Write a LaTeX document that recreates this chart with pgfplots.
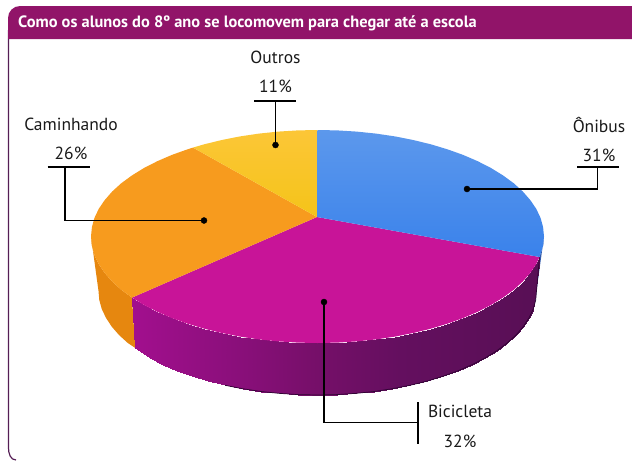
\documentclass[border=0pt]{standalone}
\usepackage{fontspec}
\setmainfont{PT Sans}
\usepackage{pgfplots}
\pgfplotsset{compat=1.18}
\definecolor{band}{RGB}{145,20,105}
\definecolor{frameC}{RGB}{85,30,85}
\definecolor{magTop}{RGB}{200,20,152}
\definecolor{orangeTop}{RGB}{247,155,30}
\definecolor{orangeSide}{RGB}{230,135,15}
\definecolor{blueA}{RGB}{92,152,236}
\definecolor{blueB}{RGB}{58,130,235}
\definecolor{yelA}{RGB}{252,198,55}
\definecolor{yelB}{RGB}{244,196,25}
\definecolor{blueSide}{RGB}{50,90,170}
\begin{document}
\begin{tikzpicture}
\begin{axis}[
  width=632pt,height=461pt,scale only axis,hide axis,clip=false,
  xmin=0,xmax=632,ymin=0,ymax=461,y dir=reverse,enlargelimits=false,
  colormap={side}{rgb255(132pt)=(162,15,142) rgb255(250pt)=(135,15,120) rgb255(316pt)=(118,15,105) rgb255(400pt)=(100,15,95) rgb255(540pt)=(88,15,85)},
]
\path (axis cs:0,0) rectangle (axis cs:632,461);
% frame and title band
\draw[frameC,line width=1.2pt] (axis cs:8.5,30) -- (axis cs:8.5,448) to[out=-90,in=180] (axis cs:16,460);
\fill[band] (axis cs:8,39) [rounded corners=12pt] -- (axis cs:8,6) [sharp corners] -- (axis cs:632,6) -- (axis cs:632,39) -- cycle;
\node[anchor=west,text=white,font=\fontsize{16.4}{17}\selectfont\bfseries,inner sep=0pt] at (axis cs:18,23.5) {Como os alunos do 8º ano se locomovem para chegar até a escola};

% side: blue sliver
\addplot[fill=blueSide,draw=none] coordinates {(544,236.5)(543.1,245.8)(539.5,257)(533,309.6)(535.7,300.1)(536.5,291)};
% side: orange
\addplot[fill=orangeSide,draw=none] coordinates {(132,297.6)(121.3,289.8)(112.2,281.5)(104.7,272.9)(98.7,264.1)(94.4,255)(91.9,245.8)(91,236.5)(98.5,291)(99.3,300.1)(101.8,309.1)(106,317.9)(111.7,326.6)(119,335)(127.8,343)(135.3,348)};
% side: magenta, shaded from left to right
\addplot[surf,shader=interp,mesh/rows=2,point meta=x] table {
x y
539.5 257
536.3 264.1
530.3 272.9
522.8 281.5
513.7 289.8
503 297.6
491 305
477.7 311.8
463.1 318.1
447.4 323.7
430.8 328.7
413.2 333
395 336.6
376.1 339.4
356.8 341.4
337.3 342.6
317.5 343
297.7 342.6
278.2 341.4
258.9 339.4
240 336.6
221.8 333
204.2 328.7
187.6 323.7
171.9 318.1
157.3 311.8
144 305
132 297.6
533 309.6
529 317.9
523.3 326.6
516 335
507.2 343
496.9 350.7
485.3 357.9
472.4 364.5
458.3 370.7
443.1 376.2
427 381.1
410 385.3
392.4 388.7
374.2 391.5
355.5 393.4
336.6 394.6
317.5 395
298.4 394.6
279.5 393.4
260.8 391.5
242.6 388.7
225 385.3
208 381.1
191.9 376.2
176.7 370.7
162.6 364.5
149.7 357.9
135.3 348
};
% dark lower edge
\addplot[draw={rgb,255:red,45;green,5;blue,50},line width=0.7pt] coordinates {(539.5,257)(535.7,300.1)(533.2,309.1)(529,317.9)(523.3,326.6)(516,335)(507.2,343)(496.9,350.7)(485.3,357.9)(472.4,364.5)(458.3,370.7)(443.1,376.2)(427,381.1)(410,385.3)(392.4,388.7)(374.2,391.5)(355.5,393.4)(336.6,394.6)(317.5,395)(298.4,394.6)(279.5,393.4)(260.8,391.5)(242.6,388.7)(225,385.3)};

% top: magenta
\addplot[fill=magTop,draw=none] coordinates {(317,217)(539.5,257)(536.3,264.1)(530.3,272.9)(522.8,281.5)(513.7,289.8)(503,297.6)(491,305)(477.7,311.8)(463.1,318.1)(447.4,323.7)(430.8,328.7)(413.2,333)(395,336.6)(376.1,339.4)(356.8,341.4)(337.3,342.6)(317.5,343)(297.7,342.6)(278.2,341.4)(258.9,339.4)(240,336.6)(221.8,333)(204.2,328.7)(187.6,323.7)(171.9,318.1)(157.3,311.8)(144,305)(132,297.6)(317,217)};
% top: orange
\addplot[fill=orangeTop,draw=none] coordinates {(317,217)(132,297.6)(121.3,289.8)(112.2,281.5)(104.7,272.9)(98.7,264.1)(94.4,255)(91.9,245.8)(91,236.5)(91.9,227.2)(94.4,218)(98.7,208.9)(104.7,200.1)(112.2,191.5)(121.3,183.2)(132,175.4)(144,168)(157.3,161.2)(171.9,154.9)(187.6,149.3)(193,147.6)(317,217)};
% top: yellow
\addplot[draw=none,top color=yelA,bottom color=yelB] coordinates {(317,217)(193,147.6)(204.2,144.3)(221.8,140)(240,136.4)(258.9,133.6)(278.2,131.6)(297.7,130.4)(317.5,130)(317,217)};
% top: blue
\addplot[draw=none,top color=blueA,bottom color=blueB] coordinates {(317,217)(317.5,130)(337.3,130.4)(356.8,131.6)(376.1,133.6)(395,136.4)(413.2,140)(430.8,144.3)(447.4,149.3)(463.1,154.9)(477.7,161.2)(491,168)(503,175.4)(513.7,183.2)(522.8,191.5)(530.3,200.1)(536.3,208.9)(540.6,218)(543.1,227.2)(544,236.5)(543.1,245.8)(539.5,257)(317,217)};

% leader lines
\addplot[black,line width=1.4pt] coordinates {(254,101)(296,101)};
\addplot[black,line width=1.4pt] coordinates {(275.5,101)(275.5,145)};
\addplot[black,line width=1.4pt] coordinates {(47.5,167)(90,167)};
\addplot[black,line width=1.4pt] coordinates {(65,167)(65,220.5)(204,220.5)};
\addplot[black,line width=1.4pt] coordinates {(577,167)(619,167)};
\addplot[black,line width=1.4pt] coordinates {(597.7,167)(597.7,189)(467,189)};
\addplot[black,line width=1.4pt] coordinates {(324,302)(324,422.7)(418,422.7)};
\addplot[black,line width=1.4pt] coordinates {(418,402)(418,444)};
\addplot[only marks,mark=*,mark size=3pt,black] coordinates {(275.5,145)(204,220.5)(467,189)(324,302)};

% labels
\tikzset{lab/.style={font=\fontsize{17.5}{18}\selectfont,inner sep=0pt,text=black!90}}
\node[lab] at (axis cs:275.5,57) {Outros};
\node[lab] at (axis cs:275.5,86) {11\%};
\node[lab] at (axis cs:71,124) {Caminhando};
\node[lab] at (axis cs:71,153) {26\%};
\node[lab] at (axis cs:599,125) {Ônibus};
\node[lab] at (axis cs:599,155) {31\%};
\node[lab] at (axis cs:460,411) {Bicicleta};
\node[lab] at (axis cs:460,441) {32\%};
\end{axis}
\end{tikzpicture}
\end{document}
